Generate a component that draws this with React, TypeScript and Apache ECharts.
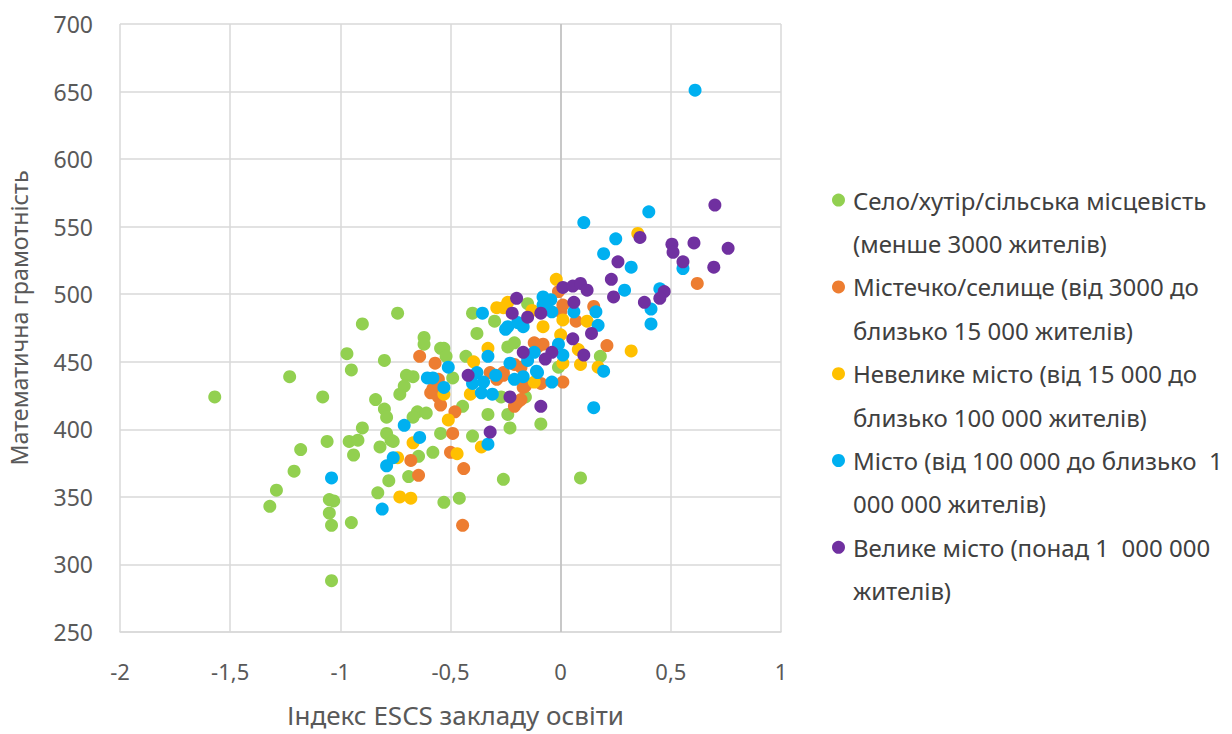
import React, { useEffect, useRef } from "react";
import * as echarts from "echarts";

type Pt = [number, number];

const seriesNames: string[] = [
  "Село/хутір/сільська місцевість\n(менше 3000 жителів)",
  "Містечко/селище (від 3000 до\nблизько 15 000 жителів)",
  "Невелике місто (від 15 000 до\nблизько 100 000 жителів)",
  "Місто (від 100 000 до близько  1\n000 000 жителів)",
  "Велике місто (понад 1  000 000\nжителів)",
];

const seriesColors: string[] = ["#92D050", "#ED7D31", "#FFC000", "#00B0F0", "#7030A0"];

const village: Pt[] = [
  [-1.57, 424], [-1.23, 439], [-1.08, 424], [-0.9, 478], [-0.97, 456], [-0.95, 444],
  [-0.8, 451], [-0.74, 486], [-0.84, 422], [-0.8, 415], [-0.79, 409], [-0.9, 401],
  [-1.06, 391], [-0.96, 391], [-0.92, 392], [-0.94, 381], [-0.82, 387], [-0.79, 397],
  [-0.77, 392], [-1.18, 385], [-1.21, 369], [-1.29, 355], [-1.32, 343], [-1.05, 348],
  [-1.03, 347], [-1.05, 338], [-1.04, 329], [-0.95, 331], [-1.04, 288], [-0.83, 353],
  [-0.78, 362], [-0.62, 468], [-0.62, 463], [-0.545, 460], [-0.53, 460], [-0.52, 454],
  [-0.49, 438], [-0.7, 440], [-0.67, 439], [-0.71, 432], [-0.73, 426], [-0.38, 471],
  [-0.43, 454], [-0.3, 480], [-0.4, 486], [-0.65, 413], [-0.61, 412], [-0.67, 409],
  [-0.545, 397], [-0.4, 395], [-0.33, 411], [-0.58, 383], [-0.645, 380], [-0.69, 365],
  [-0.26, 363], [-0.24, 411], [-0.23, 401], [-0.09, 404], [0.09, 364], [-0.46, 349],
  [-0.53, 346], [0.18, 454], [-0.24, 461], [-0.21, 464], [-0.27, 424], [-0.16, 424],
  [-0.01, 446], [-0.15, 493], [-0.445, 417], [-0.76, 391],
];

const town: Pt[] = [
  [-0.64, 454], [-0.57, 449], [-0.555, 437], [-0.59, 427], [-0.555, 424], [-0.545, 418],
  [-0.48, 413], [-0.49, 397], [-0.5, 383], [-0.44, 371], [-0.445, 329], [-0.645, 366],
  [-0.68, 377], [-0.32, 442], [-0.29, 437], [-0.26, 440], [-0.21, 448], [-0.18, 446],
  [-0.17, 431], [-0.195, 420], [-0.21, 417], [-0.09, 434], [-0.105, 461], [-0.08, 463],
  [-0.26, 442], [-0.16, 432], [0.01, 435], [-0.18, 422], [-0.01, 502], [0.0, 487],
  [0.01, 492], [0.07, 480], [0.15, 491], [0.21, 462], [0.62, 508], [-0.12, 464],
  [-0.58, 430],
];

const smallCity: Pt[] = [
  [-0.51, 407], [-0.47, 382], [-0.53, 426], [-0.67, 390], [-0.74, 379], [-0.73, 350],
  [-0.68, 349], [-0.36, 387], [-0.395, 450], [-0.41, 426], [-0.33, 460], [-0.29, 490],
  [-0.26, 490], [-0.24, 494], [-0.13, 488], [-0.08, 476], [-0.02, 511], [0.01, 481],
  [0.12, 480], [0.08, 459], [0.01, 449], [0.09, 448], [0.17, 446], [-0.12, 435],
  [0.32, 458], [0.35, 545], [0.0, 470],
];

const city: Pt[] = [
  [-1.04, 364], [-0.79, 373], [-0.76, 379], [-0.81, 341], [-0.71, 403], [-0.64, 394],
  [-0.51, 446], [-0.605, 438], [-0.58, 438], [-0.53, 431], [-0.33, 389], [-0.355, 486],
  [-0.38, 442], [-0.35, 435], [-0.4, 434], [-0.36, 427], [-0.31, 426], [-0.33, 454],
  [-0.295, 440], [-0.24, 476], [-0.25, 474], [-0.195, 479], [-0.17, 476], [-0.08, 498],
  [-0.045, 496], [-0.08, 492], [-0.04, 487], [-0.23, 449], [-0.17, 439], [-0.105, 442],
  [-0.21, 437], [-0.04, 435], [-0.12, 457], [-0.01, 463], [0.01, 455], [-0.15, 451],
  [-0.11, 443], [0.15, 416], [0.195, 443], [0.17, 477], [0.16, 487], [0.06, 487],
  [0.105, 553], [0.25, 541], [0.195, 530], [0.32, 520], [0.29, 503], [0.4, 561],
  [0.41, 489], [0.41, 478], [0.45, 504], [0.555, 519], [0.61, 651],
];

const bigCity: Pt[] = [
  [-0.42, 440], [-0.32, 398], [-0.23, 424], [-0.09, 417], [-0.2, 497], [-0.22, 486],
  [-0.15, 483], [-0.09, 486], [-0.17, 457], [-0.04, 457], [-0.07, 452], [0.055, 467],
  [0.105, 455], [0.14, 471], [0.01, 505], [0.055, 506], [0.09, 508], [0.12, 503],
  [0.06, 494], [0.23, 511], [0.24, 498], [0.26, 524], [0.36, 542], [0.38, 494],
  [0.47, 502], [0.45, 497], [0.505, 537], [0.51, 531], [0.605, 538], [0.76, 534],
  [0.555, 524], [0.695, 520], [0.7, 566],
];

const allData: Pt[][] = [village, town, smallCity, city, bigCity];

const xAxisTitle = "Індекс ESCS закладу освіти";
const yAxisTitle = "Математична грамотність";

export default function App() {
  const ref = useRef<HTMLDivElement | null>(null);

  useEffect(() => {
    if (!ref.current) return;
    const chart = echarts.init(ref.current, null, { renderer: "svg" });
    const font = "'Noto Sans', 'Open Sans', sans-serif";
    const series: any[] = allData.map((d, i) => ({
      name: seriesNames[i],
      type: "scatter",
      data: d,
      symbol: "circle",
      symbolSize: 13,
      itemStyle: { color: seriesColors[i], opacity: 1 },
      z: 3,
    }));
    series[0].markLine = {
      silent: true,
      symbol: "none",
      label: { show: false },
      lineStyle: { color: "#bfbfbf", width: 1.5, type: "solid" },
      data: [{ xAxis: 0 }],
      z: 1,
    };
    chart.setOption({
      animation: false,
      backgroundColor: "#ffffff",
      textStyle: { fontFamily: font },
      grid: {
        left: 120,
        right: 451,
        top: 24,
        bottom: 102,
        containLabel: false,
        outerBoundsMode: "none",
      },
      xAxis: {
        type: "value",
        min: -2,
        max: 1,
        interval: 0.5,
        name: xAxisTitle,
        nameLocation: "middle",
        nameGap: 70,
        nameTextStyle: {
          fontSize: 26,
          color: "#595959",
          fontFamily: font,
          padding: [0, 0, 0, 10],
        },
        axisLine: { show: true, lineStyle: { color: "#d9d9d9", width: 1.5 } },
        axisTick: { show: false },
        axisLabel: {
          fontSize: 22,
          color: "#595959",
          margin: 28,
          formatter: (v: number) => String(v).replace(".", ","),
        },
        splitLine: { show: true, lineStyle: { color: "#d9d9d9", width: 1.5 } },
      },
      yAxis: {
        type: "value",
        min: 250,
        max: 700,
        interval: 50,
        name: yAxisTitle,
        nameLocation: "middle",
        nameGap: 90,
        nameTextStyle: {
          fontSize: 23.3,
          color: "#595959",
          fontFamily: font,
          padding: [0, 0, 0, 20],
        },
        axisLine: { show: false },
        axisTick: { show: false },
        axisLabel: { fontSize: 23, color: "#595959", margin: 27 },
        splitLine: { show: true, lineStyle: { color: "#d9d9d9", width: 1.5 } },
      },
      legend: {
        show: true,
        orient: "vertical",
        left: 832,
        top: 135,
        padding: 0,
        itemGap: -43.4,
        itemWidth: 13,
        itemHeight: 13,
        icon: "circle",
        selectedMode: false,
        data: seriesNames,
        formatter: (name: string) => "\u00a0\n" + name,
        textStyle: {
          fontSize: 24,
          color: "#404040",
          lineHeight: 43.4,
          padding: [0, 0, 0, 3],
          fontFamily: font,
        },
      },
      series,
    });
    return () => chart.dispose();
  }, []);

  return (
    <div
      ref={ref}
      style={{ position: "absolute", left: 0, top: 0, width: 1232, height: 734 }}
    />
  );
}
